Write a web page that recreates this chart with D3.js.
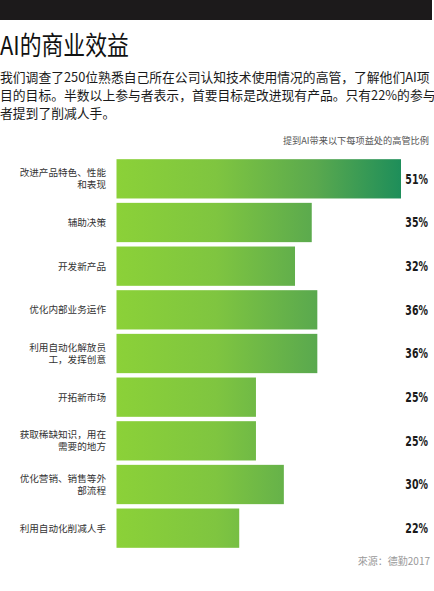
<!DOCTYPE html>
<html><head><meta charset="utf-8">
<script src="https://cdn.jsdelivr.net/npm/d3@7"></script>
<style>
html,body{margin:0;padding:0;background:#fff;}
svg{display:block;}
</style></head>
<body>
<script>
const categories = [
  "改进产品特色、性能\n和表现",
  "辅助决策",
  "开发新产品",
  "优化内部业务运作",
  "利用自动化解放员\n工，发挥创意",
  "开拓新市场",
  "获取稀缺知识，用在\n需要的地方",
  "优化营销、销售等外\n部流程",
  "利用自动化削减人手"
];
const values = [51, 35, 32, 36, 36, 25, 25, 30, 22];
const title = "AI的商业效益";
const subtitleLines = [
  "我们调查了250位熟悉自己所在公司认知技术使用情况的高管，了解他们AI项",
  "目的目标。半数以上参与者表示，首要目标是改进现有产品。只有22%的参与",
  "者提到了削减人手。"
];
const note = "提到AI带来以下每项益处的高管比例";
const source = "來源：德勤2017";

const W = 434, H = 591;
const cjk = '"Noto Sans CJK SC", "Noto Sans", sans-serif';
const svg = d3.select("body").append("svg").attr("width", W).attr("height", H);

// top black band
svg.append("rect").attr("x", 0).attr("y", 0).attr("width", 432).attr("height", 20).attr("fill", "#1c1a1b");

// title
svg.append("text").attr("transform", "translate(0,55) scale(0.84,1)")
  .attr("font-family", cjk).attr("font-size", 26).attr("font-weight", 400)
  .attr("fill", "#111").text(title);

// subtitle
svg.append("g").selectAll("text").data(subtitleLines).join("text")
  .attr("x", 0).attr("y", (d, i) => 82 + i * 18)
  .attr("font-family", cjk).attr("font-size", 12.8).attr("fill", "#1a1a1a")
  .text(d => d);

// note
svg.append("text").attr("x", 429).attr("y", 144).attr("text-anchor", "end")
  .attr("font-family", cjk).attr("font-size", 9.2).attr("fill", "#555").text(note);

const x = d3.scaleLinear().domain([0, 51]).range([116.5, 401]);
const y = d3.scaleBand().domain(categories).range([157, 550]).paddingInner(0.1).paddingOuter(0.05);

const defs = svg.append("defs");
const grad = defs.append("linearGradient").attr("id", "g").attr("gradientUnits", "userSpaceOnUse")
  .attr("x1", x(0)).attr("x2", x(51)).attr("y1", 0).attr("y2", 0);
grad.append("stop").attr("offset", "0%").attr("stop-color", "#8bd138");
grad.append("stop").attr("offset", "35%").attr("stop-color", "#7fc540");
grad.append("stop").attr("offset", "70%").attr("stop-color", "#5aa94e");
grad.append("stop").attr("offset", "100%").attr("stop-color", "#1e8e5a");

svg.append("g").selectAll("rect").data(categories).join("rect")
  .attr("x", x(0)).attr("y", d => y(d))
  .attr("width", (d, i) => x(values[i]) - x(0))
  .attr("height", y.bandwidth())
  .attr("fill", "url(#g)");

// labels (one text per line)
const labelFont = '"Liberation Sans", "Noto Sans CJK SC", sans-serif';
const labG = svg.append("g");
categories.forEach(d => {
  const lines = d.split("\n");
  const cy = y(d) + y.bandwidth() / 2;
  const lh = 12;
  lines.forEach((l, j) => {
    labG.append("text").attr("x", 106)
      .attr("y", cy + (j - (lines.length - 1) / 2) * lh + 3.4)
      .attr("text-anchor", "end").attr("font-family", labelFont)
      .attr("font-size", 9.6).attr("fill", "#333").text(l);
  });
});

// values
svg.append("g").selectAll("text").data(categories).join("text")
  .attr("transform", (d, i) => `translate(428,${y(d) + y.bandwidth() / 2 + 4.8}) scale(0.78,1)`)
  .attr("text-anchor", "end")
  .attr("font-family", '"Liberation Sans Narrow", "DejaVu Sans Condensed", sans-serif')
  .attr("font-weight", "bold").attr("font-size", 13.5).attr("fill", "#1a1a1a")
  .text((d, i) => values[i] + "%");

// source
svg.append("text").attr("x", 430).attr("y", 565).attr("text-anchor", "end")
  .attr("font-family", cjk).attr("font-size", 10).attr("fill", "#999").text(source);
</script>
</body></html>
